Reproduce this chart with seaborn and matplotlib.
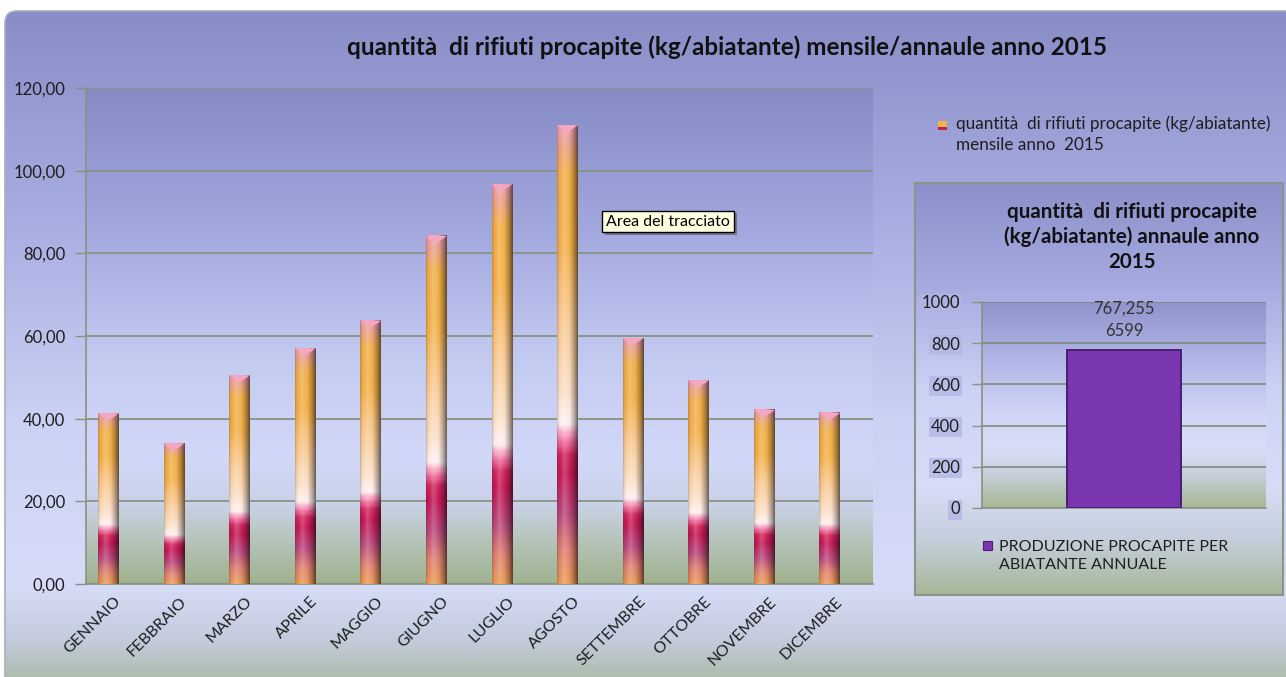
import numpy as np
import pandas as pd
import seaborn as sns
import matplotlib
matplotlib.use("Agg")
import matplotlib.pyplot as plt
from matplotlib.colors import LinearSegmentedColormap
from matplotlib.patches import Rectangle, Polygon, FancyBboxPatch
from matplotlib.ticker import FuncFormatter
import matplotlib.patheffects as pe

# ---- data -------------------------------------------------------------
months = ["GENNAIO", "FEBBRAIO", "MARZO", "APRILE", "MAGGIO", "GIUGNO",
          "LUGLIO", "AGOSTO", "SETTEMBRE", "OTTOBRE", "NOVEMBRE", "DICEMBRE"]
monthly_kg = [41.3, 34.0, 50.5, 57.0, 63.7, 84.2, 96.7, 111.0, 59.5, 49.3, 42.1, 41.4]
annual_category = ["PRODUZIONE PROCAPITE PER ABIATANTE ANNUALE"]
annual_kg = [767.2556599]
y_ticks_main = [0, 20, 40, 60, 80, 100, 120]
y_ticks_annual = [0, 200, 400, 600, 800, 1000]

main_title = "quantità  di rifiuti procapite (kg/abiatante) mensile/annaule anno 2015"
monthly_label = "quantità  di rifiuti procapite (kg/abiatante)\nmensile anno  2015"
annual_title = "quantità  di rifiuti procapite\n(kg/abiatante) annaule anno\n2015"
annual_legend = "PRODUZIONE PROCAPITE PER\nABIATANTE ANNUALE"
tooltip = "Area del tracciato"

# ---- style ------------------------------------------------------------
sns.set_style("white")
plt.rcParams["font.family"] = ["Lato", "DejaVu Sans"]
TXT = "#1e1e1e"
GRID = "#8a9282"

W, H = 1286, 677
fig = plt.figure(figsize=(W / 100, H / 100), dpi=100)
fig.patch.set_facecolor("white")


def fx(px):
    return px / W


def fy(py):
    return 1 - py / H


grad = np.linspace(0, 1, 256).reshape(-1, 1)

# ---- backgrounds (pixel space) ----------------------------------------
bg = fig.add_axes([0, 0, 1, 1], zorder=-10)
bg.set_xlim(0, W)
bg.set_ylim(H, 0)
bg.axis("off")

outer_cmap = LinearSegmentedColormap.from_list(
    "outer", [(0, "#898dc7"), (0.3, "#a7ade0"), (0.6, "#cbd2f4"),
              (0.84, "#d6dcf7"), (0.92, "#c3cbdc"), (1, "#a3b596")])
im = bg.imshow(grad, cmap=outer_cmap, extent=[5, W + 20, H + 20, 11],
               aspect="auto", interpolation="bilinear")
frame = FancyBboxPatch((5, 11), W + 20, H + 20,
                       boxstyle="round,pad=0,rounding_size=12",
                       fc="none", ec="#a9aebd", lw=1.2)
bg.add_patch(frame)
im.set_clip_path(frame)

plot_cmap = LinearSegmentedColormap.from_list(
    "plot", [(0, "#868bc6"), (0.3, "#a4aadf"), (0.55, "#c4cbf1"),
             (0.75, "#d1d8f8"), (0.84, "#c9d2e8"), (0.92, "#b4c3b6"), (1, "#9fb28f")])
bg.imshow(grad, cmap=plot_cmap, extent=[86, 873, 584, 88], aspect="auto",
          interpolation="bilinear")

inset_cmap = LinearSegmentedColormap.from_list(
    "inset", [(0, "#8c90ca"), (0.25, "#a5abdf"), (0.5, "#ccd2f4"),
              (0.74, "#d7ddf7"), (0.87, "#c4cedb"), (1, "#a6b797")])
bg.imshow(grad, cmap=inset_cmap, extent=[915, 1283, 595, 183], aspect="auto",
          interpolation="bilinear")
bg.add_patch(Rectangle((915, 183), 368, 412, fc="none", ec="#8a9488", lw=1.5))

inset_plot_cmap = LinearSegmentedColormap.from_list(
    "insetplot", [(0, "#9094cc"), (0.3, "#b3b8e8"), (0.55, "#d1d6f6"),
                  (0.72, "#d8ddf7"), (0.83, "#c8d1dc"), (1, "#a6b893")])
bg.imshow(grad, cmap=inset_plot_cmap, extent=[982, 1266, 508, 302], aspect="auto",
          interpolation="bilinear")

# ---- monthly chart ----------------------------------------------------
ax = fig.add_axes([fx(86), fy(584), fx(873) - fx(86), fy(88) - fy(584)])
ax.set_facecolor("none")
df = pd.DataFrame({"mese": months, "kg": monthly_kg})
sns.barplot(data=df, x="mese", y="kg", ax=ax, width=0.32, color="#f0a848",
            saturation=1, errorbar=None, zorder=3)

bar_cmap = LinearSegmentedColormap.from_list(
    "bar", [(0.00, "#e89a58"), (0.07, "#dc8070"), (0.15, "#b8487c"),
            (0.24, "#c41a56"), (0.28, "#d0285e"), (0.31, "#f070a0"),
            (0.35, "#fff0f0"), (0.42, "#fbe0c8"), (0.58, "#f8c890"),
            (0.74, "#f2b04c"), (0.90, "#f0ae4a"), (0.965, "#e8a08c"),
            (1.00, "#f0a0b4")])
v = np.linspace(0, 1, 300)
u = np.linspace(0, 1, 40)
shade = np.interp(u, [0, 0.08, 0.35, 0.6, 0.85, 1.0], [0.8, 0.96, 1.08, 1.0, 0.7, 0.42])
cols = bar_cmap(v)[:, :3]
bar_img = cols[:, None, :] * np.minimum(shade, 1)[None, :, None]
hi = np.clip(shade - 1, 0, None)[None, :, None]
bar_img = np.clip(bar_img + (1 - bar_img) * hi * 2.5, 0, 1)

offset = -0.157
for p in list(ax.patches):
    p.set_x(p.get_x() + offset)
    x0, w, h = p.get_x(), p.get_width(), p.get_height()
    p.set_facecolor("none")
    p.set_edgecolor("none")
    ax.imshow(bar_img, extent=[x0, x0 + w, 0, h], origin="lower", aspect="auto",
              interpolation="bilinear", zorder=3)
    cap = 1.7
    ax.add_patch(Polygon([(x0, h), (x0 + w, h), (x0 + w / 2, h - cap)],
                         closed=True, fc="#f5a6c2", ec="none", zorder=4))

ax.set_xlim(-0.5, 11.5)
ax.set_ylim(0, 120)
ax.set_xlabel("")
ax.set_ylabel("")
ax.set_xticks(np.arange(-0.5, 12, 1))
ax.set_xticklabels([])
ax.set_xticks(range(12), minor=True)
ax.set_xticklabels(months, minor=True, rotation=45, ha="right", va="center",
                   rotation_mode="anchor", color=TXT, fontsize=11.5)
ax.tick_params(axis="x", which="major", length=7, color=GRID, width=1, direction="out")
ax.tick_params(axis="x", which="minor", length=0, pad=11)
ax.set_yticks(y_ticks_main)
ax.yaxis.set_major_formatter(FuncFormatter(lambda val, pos: f"{val:.2f}".replace(".", ",")))
ax.tick_params(axis="y", length=8, color=GRID, width=1, pad=7, labelsize=12,
               labelcolor=TXT, left=True)
ax.yaxis.grid(True, color=GRID, lw=1.3)
ax.xaxis.grid(False)
ax.set_axisbelow(True)
for s in ["top", "right"]:
    ax.spines[s].set_visible(False)
for s in ["left", "bottom"]:
    ax.spines[s].set_color(GRID)
    ax.spines[s].set_linewidth(1.2)

# ---- annual chart -----------------------------------------------------
ax2 = fig.add_axes([fx(982), fy(508), fx(1266) - fx(982), fy(302) - fy(508)])
ax2.set_facecolor("none")
df2 = pd.DataFrame({"voce": annual_category, "kg": annual_kg})
sns.barplot(data=df2, x="voce", y="kg", ax=ax2, width=0.4, color="#7a36ae",
            saturation=1, errorbar=None, edgecolor="#4c1c72", linewidth=1.4, zorder=3)
ax2.set_xlim(-0.5, 0.5)
ax2.set_ylim(0, 1000)
ax2.set_xlabel("")
ax2.set_ylabel("")
ax2.set_xticks([])
ax2.set_yticks(y_ticks_annual)
ax2.tick_params(axis="y", length=7, color=GRID, width=1, pad=9, labelsize=12,
                labelcolor=TXT, left=True)
for t in ax2.get_yticklabels():
    t.set_bbox(dict(boxstyle="square,pad=0.12", fc="#b2b6e4", ec="none", alpha=0.75))
ax2.yaxis.grid(True, color="#7c8474", lw=1.1)
ax2.set_axisbelow(True)
for s in ["top", "right"]:
    ax2.spines[s].set_visible(False)
for s in ["left", "bottom"]:
    ax2.spines[s].set_color(GRID)
    ax2.spines[s].set_linewidth(1.2)

val = annual_kg[0]
val_txt = f"{val:.7f}".replace(".", ",")
ax2.annotate(val_txt[:7] + "\n" + val_txt[7:], (0, val), xytext=(0, 8),
             textcoords="offset points", ha="center", va="bottom",
             fontsize=12, color="#333333", linespacing=1.45, zorder=5)

# ---- titles, legends, tooltip -----------------------------------------
fig.text(fx(727), fy(47), main_title, ha="center", va="center", fontsize=17.5,
         fontweight="bold", color="#111111")
fig.text(fx(1132), fy(237), annual_title, ha="center", va="center", fontsize=14.8,
         fontweight="bold", color="#111111", linespacing=1.3)

# monthly series key
fig.patches.append(Rectangle((fx(938), fy(127)), 9 / W, 6 / H, transform=fig.transFigure,
                             fc="#f2b244", ec="none", figure=fig))
fig.patches.append(Rectangle((fx(938), fy(130)), 9 / W, 3 / H, transform=fig.transFigure,
                             fc="#c42050", ec="none", figure=fig))
fig.text(fx(956), fy(134), monthly_label, ha="left", va="center", fontsize=12.3,
         color=TXT, linespacing=1.4)

# annual series key
fig.patches.append(Rectangle((fx(983), fy(550)), 9 / W, 9 / H, transform=fig.transFigure,
                             fc="#7a36ae", ec="#4c1c72", lw=0.8, figure=fig))
fig.text(fx(999), fy(556), annual_legend, ha="left", va="center", fontsize=11.5,
         color=TXT, linespacing=1.45)

tip = fig.text(fx(668), fy(221.5), tooltip, ha="center", va="center", fontsize=11.5,
               color="#000000", zorder=10,
               bbox=dict(boxstyle="square,pad=0.25", fc="#ffffe1", ec="#000000", lw=1))
tip.get_bbox_patch().set_path_effects(
    [pe.SimplePatchShadow(offset=(2, -2), shadow_rgbFace="#404040", alpha=0.5), pe.Normal()])

fig.savefig("out.png", dpi=100)
